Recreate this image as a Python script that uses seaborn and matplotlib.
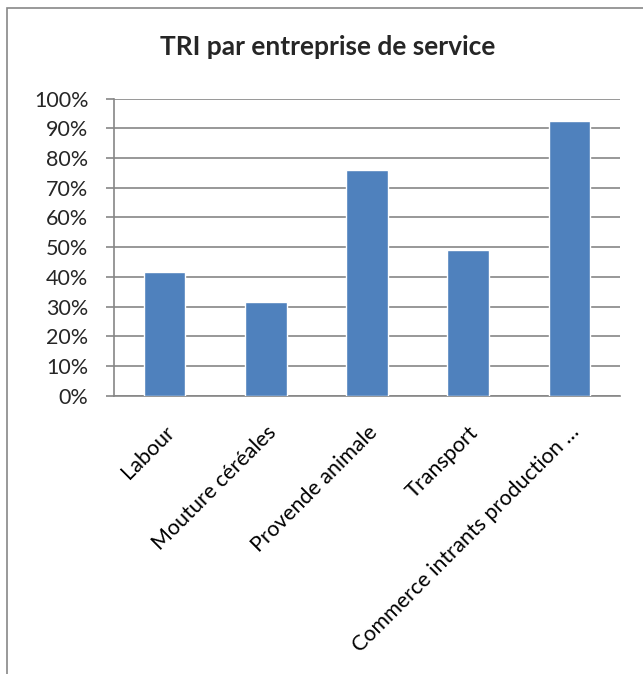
import matplotlib
matplotlib.use('Agg')
import matplotlib.pyplot as plt
import matplotlib.patches as mpatches
import matplotlib.ticker as ticker
import seaborn as sns
import pandas as pd

categories = ['Labour', 'Mouture céréales', 'Provende animale',
              'Transport', 'Commerce intrants production …']
tri = [0.4175, 0.316, 0.760, 0.492, 0.924]
yticks = [0.0, 0.1, 0.2, 0.3, 0.4, 0.5, 0.6, 0.7, 0.8, 0.9, 1.0]

GRID = '#868686'
BLUE = '#4F81BD'

sns.set_style('white')
plt.rcParams['font.family'] = ['Lato', 'DejaVu Sans']

df = pd.DataFrame({'cat': categories, 'tri': tri})

fig = plt.figure(figsize=(6.43, 6.74), dpi=100)
ax = fig.add_axes([114 / 643, 1 - 395.7 / 674, 506 / 643, 297 / 674])

sns.barplot(data=df, x='cat', y='tri', color=BLUE, width=0.41,
            saturation=1, ax=ax, zorder=3)

ax.set_xlim(-0.5, len(categories) - 0.5)
ax.set_ylim(0, 1)
ax.set_yticks(yticks)
ax.yaxis.set_major_formatter(ticker.FuncFormatter(lambda v, p: '{:.0f}%'.format(v * 100)))
ax.grid(axis='y', color=GRID, linewidth=1.2, zorder=0)
ax.set_axisbelow(True)

# category boundaries get the tick marks, labels sit at the centers
ax.set_xticks(range(len(categories)))
ax.set_xticklabels(categories, rotation=45, ha='right', rotation_mode='anchor')
ax.set_xticks([i - 0.5 for i in range(len(categories) + 1)], minor=True)
ax.tick_params(axis='x', which='major', length=0, pad=19, labelsize=15.5, colors='black')
ax.tick_params(axis='x', which='minor', length=5.5, width=1.2, color=GRID, direction='out')
ax.tick_params(axis='y', which='major', length=5.5, width=1.2, color=GRID,
               direction='out', labelsize=15.5, pad=13, left=True)

for s in ['top', 'right']:
    ax.spines[s].set_visible(False)
for s in ['left', 'bottom']:
    ax.spines[s].set_color(GRID)
    ax.spines[s].set_linewidth(1.2)

ax.set_xlabel('')
ax.set_ylabel('')

fig.text(0.51, 0.930, 'TRI par entreprise de service', ha='center', va='center',
         fontsize=19, fontweight='bold')

# chart frame, running past the right and bottom of the picture
fig.patches.append(mpatches.Rectangle((7 / 643, -0.1), 1.2, 1.1 - 8 / 674,
                                      transform=fig.transFigure, fill=False,
                                      edgecolor='#888888', linewidth=1.2))

fig.savefig('out.png', dpi=100)
